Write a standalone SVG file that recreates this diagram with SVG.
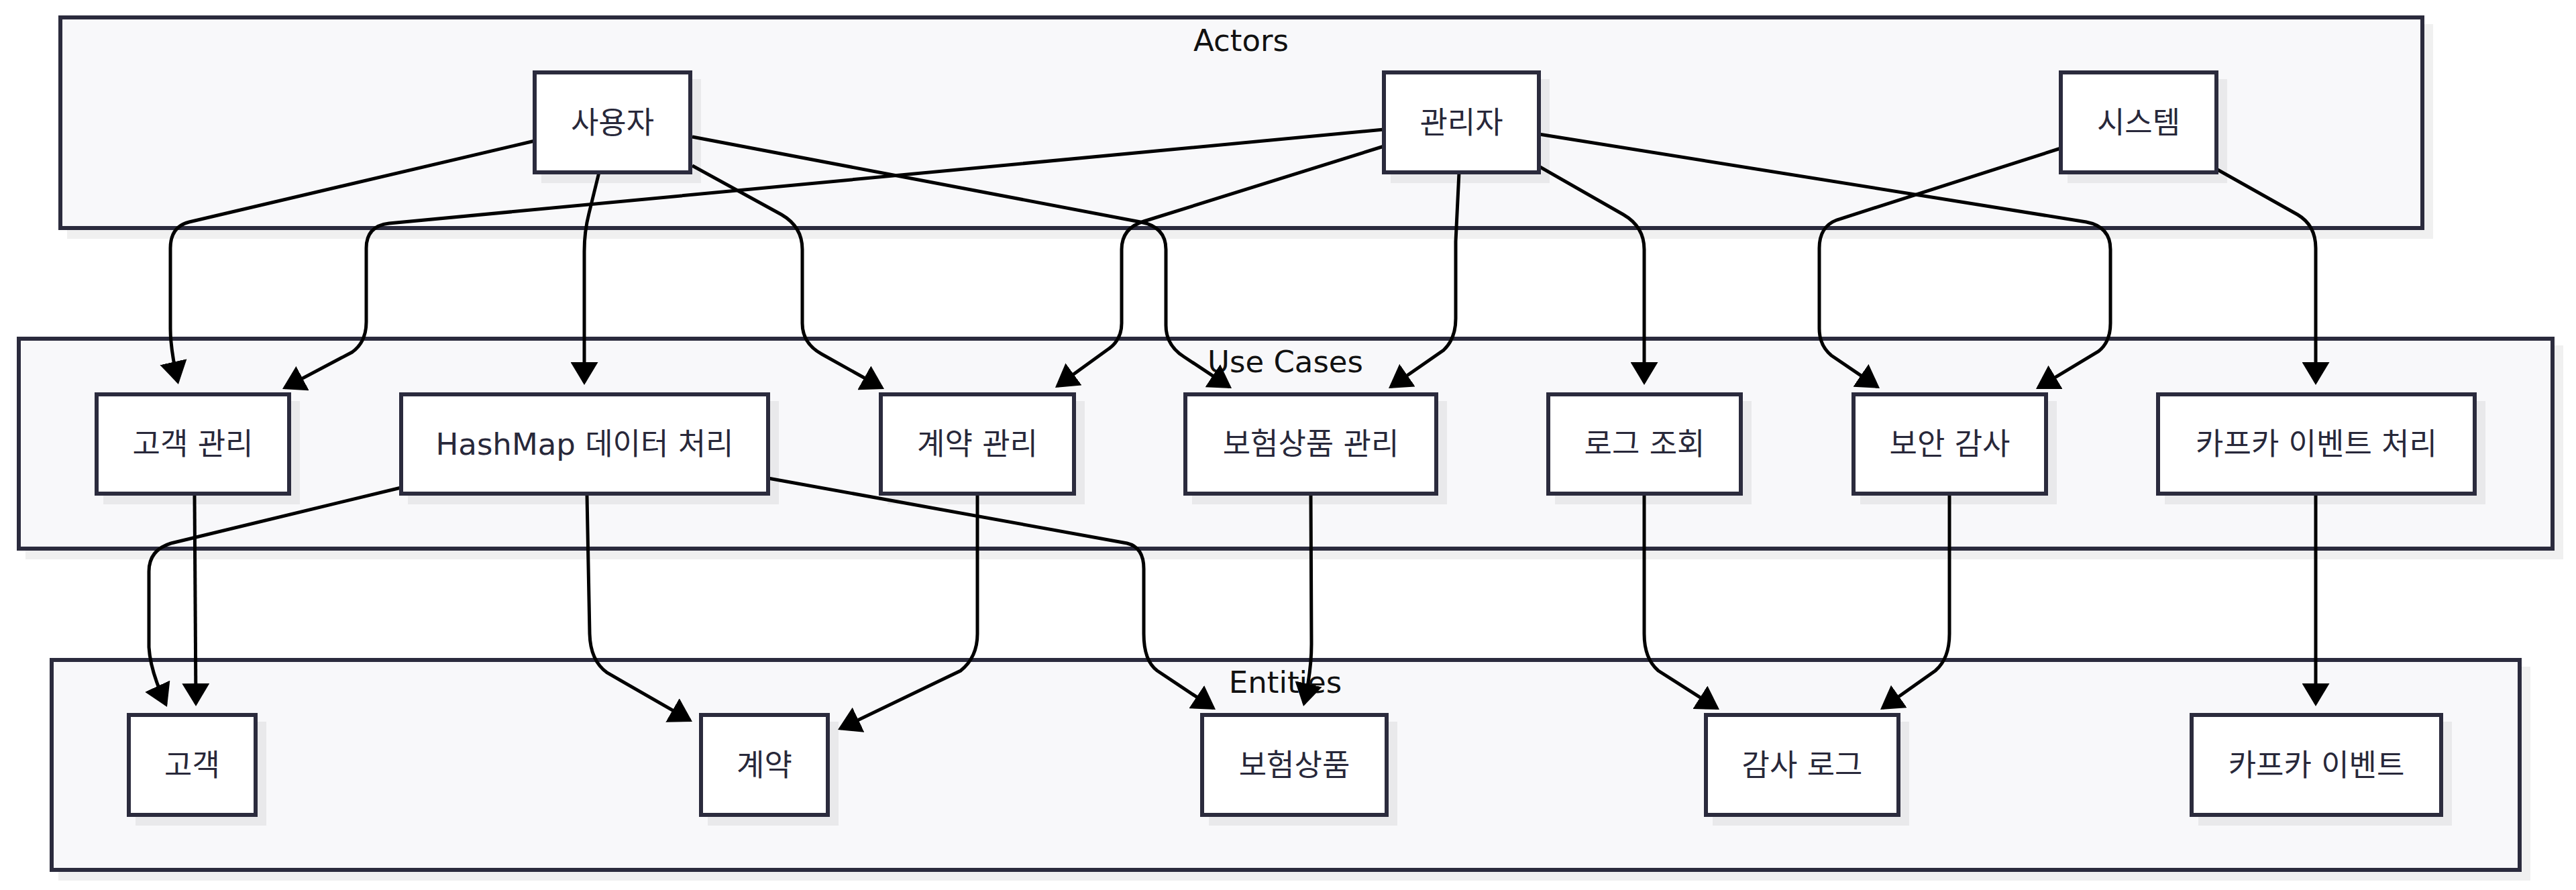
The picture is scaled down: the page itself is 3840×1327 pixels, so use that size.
<svg xmlns="http://www.w3.org/2000/svg" width="3840" height="1327" viewBox="0 0 3840 1327">
<style>
.cluster rect.box{fill:#f8f8fa;stroke:#2b2b3d;stroke-width:6}
.node rect{fill:#ffffff;stroke:#2b2b3d;stroke-width:6}
.shadow{fill:#000;fill-opacity:0.06}
.edge{fill:none;stroke:#000;stroke-width:5;marker-end:url(#arrow)}
text{font-family:"DejaVu Sans","Noto Sans CJK KR",sans-serif;font-size:45px;text-anchor:middle}
.nl{fill:#28283a}
.cl{fill:#111}
</style>
<defs>
<marker id="arrow" markerUnits="userSpaceOnUse" markerWidth="34" markerHeight="41" viewBox="0 0 34 41" refX="30" refY="20.5" orient="auto">
<path d="M0,0 L34,20.5 L0,41 z" fill="#000"/>
</marker>
</defs>
<rect width="3840" height="1327" fill="#ffffff"/>

<g id="clusters">
<g id="cluster-actors" class="cluster">
<rect class="shadow" x="100" y="36" width="3527" height="320"/>
<rect class="box" x="90" y="26" width="3521" height="314"/>
<text class="cl" x="1850" y="76">Actors</text>
</g>
<g id="cluster-usecases" class="cluster">
<rect class="shadow" x="38" y="515" width="3783" height="319"/>
<rect class="box" x="28" y="505" width="3777" height="313"/>
<text class="cl" x="1916" y="555">Use Cases</text>
</g>
<g id="cluster-entities" class="cluster">
<rect class="shadow" x="87" y="994" width="3685" height="319"/>
<rect class="box" x="77" y="984" width="3679" height="313"/>
<text class="cl" x="1916" y="1033">Entities</text>
</g>
</g>

<g id="node-shadows">
<rect class="shadow" x="807" y="118" width="238" height="155"/>
<rect class="shadow" x="2073" y="118" width="237" height="155"/>
<rect class="shadow" x="3082" y="118" width="238" height="155"/>
<rect class="shadow" x="154" y="598" width="293" height="154"/>
<rect class="shadow" x="608" y="598" width="553" height="154"/>
<rect class="shadow" x="1323" y="598" width="294" height="154"/>
<rect class="shadow" x="1777" y="598" width="380" height="154"/>
<rect class="shadow" x="2318" y="598" width="293" height="154"/>
<rect class="shadow" x="2773" y="598" width="293" height="154"/>
<rect class="shadow" x="3227" y="598" width="478" height="154"/>
<rect class="shadow" x="202" y="1076" width="195" height="155"/>
<rect class="shadow" x="1055" y="1076" width="195" height="155"/>
<rect class="shadow" x="1802" y="1076" width="281" height="155"/>
<rect class="shadow" x="2553" y="1076" width="293" height="155"/>
<rect class="shadow" x="3277" y="1076" width="378" height="155"/>
</g>

<g id="connectors">
<path class="edge" d="M797,210 L282,331 Q254,338 254,370 L254,490 Q254,520 265,569"/>
<path class="edge" d="M893,257 L878,318 Q871,345 871,375 L871,570"/>
<path class="edge" d="M1032,247 L1165,320 Q1196,338 1196,372 L1196,482 Q1196,512 1225,528 L1314.5,578"/>
<path class="edge" d="M1032,204 L1700,331 Q1738,338 1738,372 L1738,485 Q1738,515 1765,532 L1832.7,576.8"/>
<path class="edge" d="M2063,193 L580,333 Q546,337 546,370 L546,480 Q546,510 525,525 L424.5,578.1"/>
<path class="edge" d="M2063,218 L1705,330 Q1672,340 1672,372 L1672,482 Q1672,508 1650,522 L1576.2,575.6"/>
<path class="edge" d="M2175,257 L2170,360 L2170,475 Q2170,505 2152,522 L2073.3,576.7"/>
<path class="edge" d="M2294,248 L2420,320 Q2451,338 2451,372 L2451,570"/>
<path class="edge" d="M2294,200 L3110,331 Q3146,338 3146,372 L3146,482 Q3146,510 3128,524 L3038.4,577.9"/>
<path class="edge" d="M3072,221 L2738,328 Q2712,338 2712,370 L2712,490 Q2712,515 2730,530 L2798.7,576.7"/>
<path class="edge" d="M3304,252 L3425,320 Q3452,336 3452,370 L3452,570"/>
<path class="edge" d="M290,739 L292,1049"/>
<path class="edge" d="M598,727 L255,810 Q222,820 222,852 L222,965 Q224,1000 247.3,1050.4"/>
<path class="edge" d="M875,739 L879,945 Q880,985 905,1003 L1028.5,1074"/>
<path class="edge" d="M1145,713 L1680,810 Q1705,816 1705,848 L1705,945 Q1705,985 1725,1000 L1808.7,1055.8"/>
<path class="edge" d="M1457,739 L1457,945 Q1457,980 1432,1000 L1252.6,1086.3"/>
<path class="edge" d="M1954,739 L1955,960 Q1955,1000 1943.9,1049.1"/>
<path class="edge" d="M2451,739 L2451,945 Q2451,982 2472,1000 L2559.6,1055.9"/>
<path class="edge" d="M2906,739 L2906,945 Q2906,982 2885,1000 L2806.3,1055.7"/>
<path class="edge" d="M3452,739 L3452,1049"/>
</g>

<g id="nodes">
<g id="actor-user" class="node"><rect x="797" y="108" width="232" height="149"/><text class="nl" x="913" y="198.5">사용자</text></g>
<g id="actor-admin" class="node"><rect x="2063" y="108" width="231" height="149"/><text class="nl" x="2178.5" y="198.5">관리자</text></g>
<g id="actor-system" class="node"><rect x="3072" y="108" width="232" height="149"/><text class="nl" x="3188" y="198.5">시스템</text></g>

<g id="uc-customer" class="node"><rect x="144" y="588" width="287" height="148"/><text class="nl" x="287.5" y="678">고객 관리</text></g>
<g id="uc-hashmap" class="node"><rect x="598" y="588" width="547" height="148"/><text class="nl" x="871.5" y="678">HashMap 데이터 처리</text></g>
<g id="uc-contract" class="node"><rect x="1313" y="588" width="288" height="148"/><text class="nl" x="1457" y="678">계약 관리</text></g>
<g id="uc-product" class="node"><rect x="1767" y="588" width="374" height="148"/><text class="nl" x="1954" y="678">보험상품 관리</text></g>
<g id="uc-log" class="node"><rect x="2308" y="588" width="287" height="148"/><text class="nl" x="2451.5" y="678">로그 조회</text></g>
<g id="uc-audit" class="node"><rect x="2763" y="588" width="287" height="148"/><text class="nl" x="2906.5" y="678">보안 감사</text></g>
<g id="uc-kafka" class="node"><rect x="3217" y="588" width="472" height="148"/><text class="nl" x="3453" y="678">카프카 이벤트 처리</text></g>

<g id="ent-customer" class="node"><rect x="192" y="1066" width="189" height="149"/><text class="nl" x="286.5" y="1156.5">고객</text></g>
<g id="ent-contract" class="node"><rect x="1045" y="1066" width="189" height="149"/><text class="nl" x="1139.5" y="1156.5">계약</text></g>
<g id="ent-product" class="node"><rect x="1792" y="1066" width="275" height="149"/><text class="nl" x="1929.5" y="1156.5">보험상품</text></g>
<g id="ent-audit" class="node"><rect x="2543" y="1066" width="287" height="149"/><text class="nl" x="2686.5" y="1156.5">감사 로그</text></g>
<g id="ent-kafka" class="node"><rect x="3267" y="1066" width="372" height="149"/><text class="nl" x="3453" y="1156.5">카프카 이벤트</text></g>
</g>
</svg>
